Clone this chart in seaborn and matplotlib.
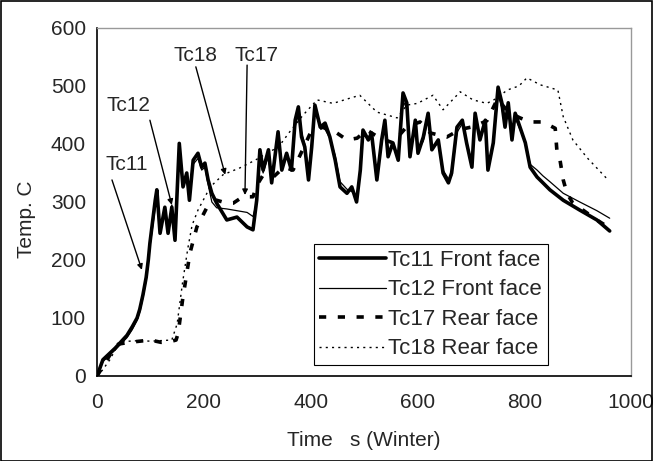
import numpy as np
import pandas as pd
import seaborn as sns
import matplotlib.pyplot as plt
from matplotlib.patches import Rectangle

# front face thermocouples share one time base
t_front = [0, 11, 34, 56, 66, 75, 80, 86, 92, 96,
           99, 109, 112, 118, 127, 133, 140, 146, 154, 161,
           168, 173, 180, 189, 196, 202, 208, 215, 224, 243,
           262, 281, 292, 299, 305, 311, 321, 327, 339, 346,
           355, 364, 371, 377, 383, 389, 396, 402, 408, 418,
           427, 436, 446, 455, 468, 477, 486, 493, 498, 508,
           514, 524, 533, 539, 545, 554, 564, 573, 580, 586,
           596, 601, 611, 620, 627, 639, 648, 658, 664, 674,
           684, 692, 702, 708, 717, 727, 732, 742, 751, 758,
           764, 770, 777, 783, 792, 802, 811, 824, 835, 848,
           873, 904, 936, 960]
tc11 = [0, 28, 48, 70, 85, 100, 115, 140, 170, 200,
        229, 303, 321, 246, 291, 246, 291, 234, 401, 326,
        350, 303, 372, 384, 360, 367, 338, 315, 298, 269,
        274, 257, 252, 303, 390, 355, 390, 333, 421, 355,
        384, 355, 441, 464, 412, 395, 338, 395, 467, 429,
        436, 412, 372, 326, 315, 326, 300, 355, 424, 407,
        419, 338, 407, 441, 378, 402, 372, 488, 471, 378,
        441, 384, 412, 453, 390, 407, 350, 333, 350, 429,
        441, 402, 360, 453, 407, 441, 355, 402, 498, 471,
        429, 471, 407, 453, 429, 402, 360, 343, 333, 321,
        303, 286, 269, 250]
tc12 = [0, 25, 45, 66, 80, 96, 110, 135, 165, 195,
        222, 290, 312, 255, 285, 250, 295, 240, 385, 330,
        345, 310, 365, 375, 355, 360, 330, 300, 290, 288,
        285, 282, 275, 300, 375, 350, 380, 340, 410, 360,
        380, 365, 430, 450, 420, 400, 350, 400, 455, 430,
        425, 410, 380, 335, 322, 318, 310, 350, 415, 410,
        412, 345, 400, 430, 385, 398, 378, 475, 460, 385,
        432, 390, 405, 445, 395, 400, 355, 340, 345, 420,
        435, 405, 365, 445, 410, 432, 362, 400, 485, 462,
        430, 458, 410, 445, 425, 405, 365, 355, 345, 335,
        315, 300, 285, 272]

# rear face
t_tc17 = [0, 10, 20, 30, 40, 60, 80, 100, 120, 140,
          148, 152, 160, 168, 174, 187, 206, 224, 243, 255,
          273, 292, 300, 310, 330, 350, 367, 385, 400, 423,
          449, 468, 487, 505, 530, 554, 580, 605, 624, 655,
          680, 705, 730, 750, 770, 792, 811, 835, 858, 861,
          867, 873, 880, 891, 910, 936, 960]
tc17 = [0, 15, 30, 45, 55, 58, 60, 62, 58, 60,
        62, 74, 130, 177, 212, 257, 291, 303, 298, 298,
        309, 309, 330, 345, 343, 360, 355, 390, 420, 429,
        419, 407, 410, 424, 410, 402, 430, 438, 419, 412,
        425, 430, 440, 478, 455, 445, 438, 438, 427, 390,
        372, 338, 315, 298, 286, 269, 255]
t_tc18 = [0, 10, 24, 34, 43, 60, 80, 100, 120, 140,
          150, 160, 170, 178, 189, 212, 236, 268, 296, 320,
          340, 360, 386, 412, 442, 470, 492, 524, 562, 580,
          600, 629, 648, 680, 704, 730, 749, 768, 790, 805,
          830, 863, 873, 891, 918, 957]
tc18 = [0, 10, 28, 45, 59, 60, 61, 60, 61, 62,
        90, 160, 220, 260, 286, 326, 347, 359, 372, 385,
        395, 420, 450, 476, 470, 478, 484, 455, 445, 467,
        470, 484, 459, 490, 476, 470, 479, 493, 500, 514,
        502, 493, 447, 407, 376, 338]

labels = ["Tc11 Front face", "Tc12 Front face", "Tc17 Rear face", "Tc18 Rear face"]
x_ticks = [0, 200, 400, 600, 800, 1000]
y_ticks = [0, 100, 200, 300, 400, 500, 600]

sns.set_style("white")
plt.rcParams['font.family'] = ['Liberation Sans', 'DejaVu Sans']

fig = plt.figure(figsize=(6.53, 4.61), dpi=100)
ax = fig.add_axes([0.1486, 0.1844, 0.8178, 0.7549])

sns.lineplot(x=t_front, y=tc11, ax=ax, color='black', lw=2.6, label=labels[0])
sns.lineplot(x=t_front, y=tc12, ax=ax, color='black', lw=0.9, label=labels[1])
sns.lineplot(x=t_tc17, y=tc17, ax=ax, color='black', lw=2.6, linestyle=(0, (2, 3.2)), label=labels[2])
sns.lineplot(x=t_tc18, y=tc18, ax=ax, color='black', lw=1.0, linestyle=(0, (1.5, 3)), label=labels[3])

ax.set_xlim(0, 1000)
ax.set_ylim(0, 600)
ax.set_xticks(x_ticks)
ax.set_yticks(y_ticks)
ax.tick_params(direction='out', length=4, width=1, color='black', labelsize=15, pad=4)
ax.tick_params(axis='x', pad=8)

for s in ['left', 'bottom']:
    ax.spines[s].set_color('black')
    ax.spines[s].set_linewidth(1.2)
for s in ['top', 'right']:
    ax.spines[s].set_color('#999999')
    ax.spines[s].set_linewidth(1.0)

ax.set_xlabel("Time   s (Winter)", fontsize=15)
ax.set_ylabel("Temp. C", fontsize=15)
ax.xaxis.set_label_coords(0.5, -0.158)
ax.yaxis.set_label_coords(-0.115, 0.45)

# callouts
arrow = dict(arrowstyle='-|>', color='black', lw=1.0, mutation_scale=8, shrinkA=0, shrinkB=0)
ax.text(56, 364, "Tc11", fontsize=15, ha='center', va='center')
ax.annotate('', xy=(84, 183), xytext=(28, 338), arrowprops=arrow)
ax.text(58, 466, "Tc12", fontsize=15, ha='center', va='center')
ax.annotate('', xy=(140, 295), xytext=(99, 441), arrowprops=arrow)
ax.text(184, 553, "Tc18", fontsize=15, ha='center', va='center')
ax.annotate('', xy=(240, 347), xytext=(185, 533), arrowprops=arrow)
ax.text(298, 553, "Tc17", fontsize=15, ha='center', va='center')
ax.annotate('', xy=(277, 312), xytext=(281, 536), arrowprops=arrow)

leg = ax.legend(loc='lower left', bbox_to_anchor=(0.406, 0.032), borderaxespad=0,
                fontsize=16, frameon=True, fancybox=False, framealpha=1,
                edgecolor='black', handlelength=3.0, handletextpad=0.1,
                labelspacing=0.38, borderpad=0.25)
leg.get_frame().set_linewidth(0.8)

fig.patches.append(Rectangle((0.001, 0.001), 0.997, 0.997, transform=fig.transFigure,
                             fill=False, edgecolor='black', lw=1.2))

fig.savefig("out.png", dpi=100)
